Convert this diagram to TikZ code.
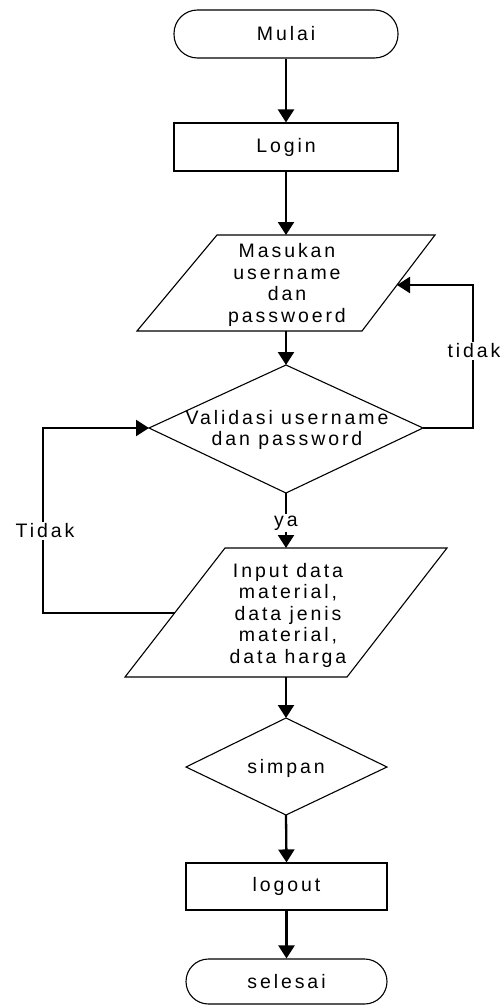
\documentclass[tikz,border=0pt]{standalone}
\usepackage{fontspec}
\setmainfont{Liberation Sans}[LetterSpace=15]
\usetikzlibrary{arrows.meta}
\begin{document}
\begin{tikzpicture}[x=1pt,y=-1pt,
  txt/.style={font=\fontsize{19.5}{21.5}\selectfont, align=center, inner sep=1pt},
  box/.style={txt, draw=black, line width=1.1pt, fill=white},
  term/.style={box, rounded corners=23.5pt},
  outline/.style={draw=black, line width=1.1pt, fill=white, line join=miter},
  conn/.style={line width=2.3pt, -{Triangle[width=16pt,length=13pt]}},
  lbl/.style={txt, fill=white, inner sep=2pt}]
\useasboundingbox (0,0) rectangle (503,1006);
% start / login
\node[term, minimum width=224pt, minimum height=48pt] (mulai) at (286,34) {Mulai};
\node[box, minimum width=224pt, minimum height=48pt] (login) at (286,147) {Login};
% input parallelogram 1
\draw[outline] (217,235) -- (435,235) -- (362,331) -- (137,331) -- cycle;
\node[txt] (masukan) at (287,285) {Masukan\\username\\dan\\passwoerd};
\coordinate (mtop) at (286,235);
\coordinate (mbot) at (286,331);
\coordinate (mright) at (397,285);
% validation diamond
\draw[outline] (286,365) -- (423,428) -- (286,493) -- (149,428) -- cycle;
\node[txt] (valid) at (287,430) {Validasi username\\dan password};
\coordinate (vtop) at (286,365);
\coordinate (vright) at (423,428);
\coordinate (vbot) at (286,493);
\coordinate (vleft) at (149,428);
% input parallelogram 2
\draw[outline] (225,548) -- (447,548) -- (347,677) -- (125,677) -- cycle;
\node[txt] (input) at (288,615) {Input data\\material,\\data jenis\\material,\\data harga};
\coordinate (itop) at (286,548);
\coordinate (ibot) at (286,677);
\coordinate (ileft) at (174.6,613);
% simpan diamond
\draw[outline] (286,718) -- (387,767) -- (286,815) -- (186,767) -- cycle;
\node[txt] (simpan) at (286,768) {simpan};
\coordinate (stop) at (286,718);
\coordinate (sbot) at (286,815);
% logout / selesai
\node[box, minimum width=201pt, minimum height=47pt] (logout) at (286.5,886.5) {logout};
\node[term, minimum width=201pt, minimum height=45pt, rounded corners=22.5pt] (selesai) at (286.5,981.5) {selesai};
% connectors
\draw[conn] (mulai.south) -- (login.north);
\draw[conn] (login.south) -- (mtop);
\draw[conn] (mbot) -- (vtop);
\draw[conn] (vright) -- (473,428) -- (473,285) -- (mright);
\node[lbl] (tidak) at (474,351) {tidak};
\draw[conn] (vbot) -- (itop);
\node[lbl] (ya) at (286,523) {ya};
\draw[conn] (ileft) -- (43,613) -- (43,428) -- (vleft);
\node[lbl] (Tidak) at (45,531) {Tidak};
\draw[conn] (ibot) -- (stop);
\draw[conn] (sbot) -- (logout.north);
\draw[conn] (logout.south) -- (selesai.north);
\end{tikzpicture}
\end{document}
